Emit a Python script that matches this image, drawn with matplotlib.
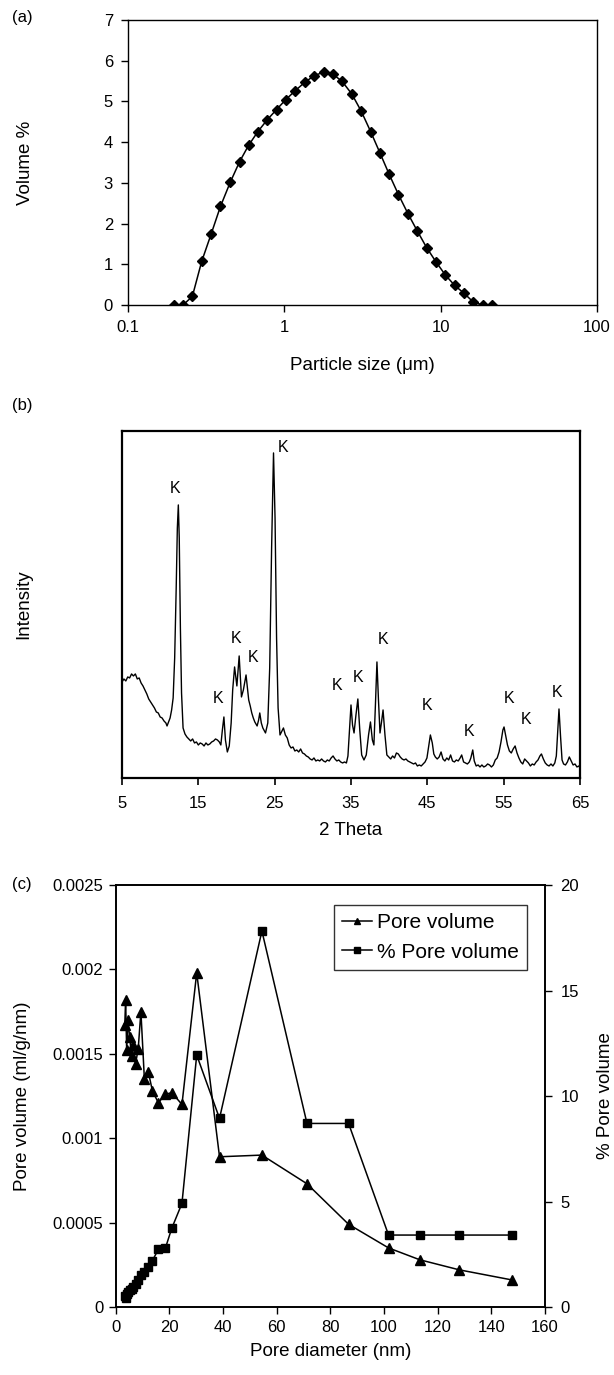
import matplotlib
matplotlib.use('Agg')
import matplotlib.pyplot as plt
import matplotlib.ticker as ticker

plt.rcParams['font.family'] = ['Liberation Sans', 'DejaVu Sans']
plt.rcParams['font.size'] = 12

# (a) particle size distribution
size_um = [0.195, 0.224, 0.257, 0.295, 0.339, 0.389, 0.449, 0.516, 0.589, 0.676,
           0.776, 0.89, 1.017, 1.17, 1.35, 1.55, 1.78, 2.04, 2.34, 2.7,
           3.1, 3.56, 4.08, 4.68, 5.37, 6.18, 7.08, 8.13, 9.33, 10.7,
           12.3, 14.1, 16.2, 18.6, 21.4]
volume_pct = [0, 0, 0.21, 1.07, 1.74, 2.42, 3.01, 3.52, 3.92, 4.26,
              4.55, 4.80, 5.04, 5.26, 5.47, 5.63, 5.72, 5.67, 5.49, 5.18,
              4.76, 4.26, 3.74, 3.21, 2.71, 2.24, 1.82, 1.41, 1.06, 0.74,
              0.48, 0.29, 0.07, 0, 0]

# (b) XRD pattern
two_theta = [5.0, 5.25, 5.5, 5.75, 6.0, 6.25, 6.5, 6.75, 7.0, 7.25, 7.5, 7.75, 8.0, 8.25,
             8.5, 8.75, 9.0, 9.25, 9.5, 9.75, 10.0, 10.25, 10.5, 10.75, 10.9, 11.1, 11.3,
             11.5, 11.7, 11.9, 12.1, 12.25, 12.38, 12.5, 12.65, 12.8, 13.0, 13.25, 13.5,
             13.75, 14.0, 14.25, 14.5, 14.75, 15.0, 15.25, 15.5, 15.75, 16.0, 16.25, 16.5,
             16.75, 17.0, 17.25, 17.5, 17.75, 17.95, 18.15, 18.35, 18.55, 18.8, 19.05, 19.3,
             19.5, 19.75, 20.05, 20.35, 20.65, 20.9, 21.25, 21.6, 21.8, 22.0, 22.2, 22.4,
             22.7, 22.9, 23.05, 23.25, 23.45, 23.8, 24.1, 24.35, 24.6, 24.85, 25.05, 25.25,
             25.45, 25.7, 25.95, 26.15, 26.4, 26.65, 26.9, 27.15, 27.4, 27.65, 27.9, 28.15,
             28.4, 28.65, 28.9, 29.15, 29.4, 29.65, 29.9, 30.15, 30.4, 30.65, 30.9, 31.15,
             31.4, 31.65, 31.9, 32.15, 32.4, 32.65, 32.9, 33.15, 33.4, 33.65, 33.9, 34.15,
             34.4, 34.6, 34.8, 35.0, 35.2, 35.4, 35.65, 35.9, 36.15, 36.4, 36.7, 37.0, 37.3,
             37.55, 37.8, 38.0, 38.2, 38.4, 38.6, 38.8, 39.0, 39.2, 39.45, 39.7, 39.95,
             40.2, 40.45, 40.7, 40.95, 41.2, 41.45, 41.7, 41.95, 42.2, 42.45, 42.7, 42.95,
             43.2, 43.45, 43.7, 43.95, 44.2, 44.45, 44.7, 44.95, 45.15, 45.4, 45.65, 45.85,
             46.05, 46.3, 46.55, 46.8, 47.05, 47.3, 47.55, 47.8, 48.05, 48.3, 48.55, 48.8,
             49.05, 49.3, 49.5, 49.75, 50.0, 50.25, 50.5, 50.7, 50.95, 51.15, 51.4, 51.65,
             51.9, 52.15, 52.4, 52.65, 52.9, 53.15, 53.4, 53.65, 53.9, 54.15, 54.4, 54.65,
             54.9, 55.05, 55.25, 55.5, 55.75, 56.0, 56.25, 56.5, 56.75, 57.0, 57.25, 57.5,
             57.75, 58.0, 58.25, 58.5, 58.75, 59.0, 59.25, 59.5, 59.75, 59.95, 60.2, 60.45,
             60.7, 60.95, 61.2, 61.45, 61.7, 61.9, 62.05, 62.25, 62.45, 62.65, 62.85, 63.1,
             63.35, 63.6, 63.85, 64.1, 64.35, 64.6, 64.85, 65.0]
intensity = [96, 99, 97, 101, 100, 104, 102, 104, 99, 100, 95, 92, 88, 84,
             79, 76, 73, 70, 66, 65, 61, 60, 57, 55, 52, 56, 60,
             68, 80, 120, 190, 250, 273, 240, 150, 85, 50, 44, 41,
             39, 37, 39, 35, 36, 33, 35, 34, 32, 35, 33, 34,
             36, 37, 39, 38, 36, 33, 48, 61, 38, 26, 32, 55,
             88, 111, 92, 122, 81, 88, 103, 78, 72, 65, 60, 56,
             52, 58, 65, 55, 50, 45, 55, 110, 230, 325, 260, 140,
             70, 43, 47, 50, 43, 40, 33, 30, 31, 27, 28, 26,
             29, 25, 24, 22, 21, 19, 18, 20, 17, 18, 17, 19,
             17, 16, 18, 17, 20, 22, 19, 17, 18, 16, 15, 16,
             15, 22, 48, 73, 53, 45, 63, 79, 48, 23, 18, 23, 43,
             56, 38, 33, 73, 116, 78, 45, 56, 68, 43, 23, 21,
             19, 22, 20, 25, 24, 21, 19, 18, 19, 17, 16, 15,
             14, 15, 12, 13, 12, 14, 16, 20, 30, 43, 35, 24,
             21, 19, 21, 26, 19, 17, 20, 18, 23, 17, 16, 18,
             17, 20, 23, 16, 15, 14, 16, 20, 28, 17, 12, 13,
             11, 13, 11, 12, 14, 13, 11, 13, 18, 20, 26, 36,
             48, 51, 43, 33, 27, 25, 29, 32, 25, 20, 16, 14,
             19, 17, 15, 12, 14, 13, 16, 18, 22, 24, 19, 15,
             13, 12, 14, 12, 15, 22, 43, 69, 42, 18, 14, 13,
             16, 21, 17, 13, 14, 11, 12, 10]
k_theta = [11.94, 26.05, 19.94, 22.12, 39.15, 17.62, 33.13, 35.88, 45.0, 50.46, 55.7, 57.89, 62.03]
k_height = [289, 330, 139, 120, 138, 79, 92, 100, 72, 46, 79, 58, 85]

# (c) pore size distribution
pore_diam = [3.4, 3.7, 4.1, 4.6, 5.2, 5.9, 6.6, 7.4, 8.4, 9.4, 10.7, 12.2, 13.7,
             15.9, 18.5, 20.9, 24.7, 30.2, 38.7, 54.5, 71.3, 86.8, 101.7, 113.3, 128.1, 147.8]
pore_vol = [0.00167, 0.00182, 0.00152, 0.00170, 0.00160, 0.00149, 0.00155, 0.00144, 0.00153,
            0.00175, 0.00135, 0.00139, 0.00128, 0.00121, 0.00126, 0.00127, 0.00120, 0.00198,
            0.00089, 0.00090, 0.00073, 0.00049, 0.00035, 0.00028, 0.00022, 0.00016]
pore_pct = [0.5, 0.45, 0.6, 0.7, 0.8, 0.85, 0.95, 1.1, 1.3, 1.5, 1.65, 1.9, 2.2,
            2.73, 2.78, 3.73, 4.91, 11.94, 8.94, 17.82, 8.7, 8.7, 3.41, 3.41, 3.41, 3.41]

fig = plt.figure(figsize=(6.14, 13.75), dpi=100)

# ---- (a)
ax1 = fig.add_axes([0.209, 0.7782, 0.763, 0.2073])
ax1.plot(size_um, volume_pct, '-', color='black', lw=1.1, marker='D', ms=5.5)
ax1.set_xscale('log')
ax1.set_xlim(0.1, 100)
ax1.set_ylim(0, 7)
ax1.xaxis.set_major_formatter(ticker.FuncFormatter(lambda v, p: '%g' % v))
ax1.xaxis.set_minor_locator(ticker.NullLocator())
ax1.set_yticks(range(0, 8))
ax1.set_xlabel('Particle size (\u03bcm)', fontsize=13.5, labelpad=16)
ax1.set_ylabel('Volume %', fontsize=13.5)
ax1.yaxis.set_label_coords(-0.201, 0.5)
ax1.tick_params(direction='out', length=5, width=1, labelsize=12, pad=6)
for s in ax1.spines.values():
    s.set_linewidth(1.0)
fig.text(0.02, 0.987, '(a)', fontsize=12, va='center')

# ---- (b)
ax2 = fig.add_axes([0.1987, 0.4342, 0.7459, 0.2524])
ax2.plot(two_theta, intensity, '-', color='black', lw=1.0)
for t, h in zip(k_theta, k_height):
    ax2.text(t, h, 'K', ha='center', va='center', fontsize=11.5)
ax2.set_xlim(5, 65)
ax2.set_ylim(0, 347)
ax2.set_xticks(range(5, 66, 10))
ax2.set_yticks([])
ax2.set_xlabel('2 Theta', fontsize=13.5, labelpad=8)
ax2.set_ylabel('Intensity', fontsize=13.5)
ax2.yaxis.set_label_coords(-0.1965, 0.5)
ax2.tick_params(direction='out', length=5, width=1.2, labelsize=12, pad=8)
for s in ax2.spines.values():
    s.set_linewidth(1.6)
fig.text(0.02, 0.705, '(b)', fontsize=12, va='center')

# ---- (c)
ax3 = fig.add_axes([0.1884, 0.04945, 0.6992, 0.3069])
l1, = ax3.plot(pore_diam, pore_vol, '-', color='black', lw=1.1, marker='^', ms=6.5,
               label='Pore volume')
ax3.set_xlim(0, 160)
ax3.set_ylim(0, 0.0025)
ax3.set_xticks(range(0, 161, 20))
ax3.set_yticks([0, 0.0005, 0.001, 0.0015, 0.002, 0.0025])
ax3.set_yticklabels(['0', '0.0005', '0.001', '0.0015', '0.002', '0.0025'])
ax3.set_xlabel('Pore diameter (nm)', fontsize=13.5, labelpad=6)
ax3.set_ylabel('Pore volume (ml/g/nm)', fontsize=13.5)
ax3.yaxis.set_label_coords(-0.198, 0.5)
ax3.tick_params(direction='out', length=5, width=1, labelsize=12, pad=4)

ax4 = ax3.twinx()
l2, = ax4.plot(pore_diam, pore_pct, '-', color='black', lw=1.1, marker='s', ms=6,
               label='% Pore volume')
ax4.set_ylim(0, 20)
ax4.set_yticks(range(0, 21, 5))
ax4.set_ylabel('% Pore volume', fontsize=13.5)
ax4.yaxis.set_label_coords(1.12, 0.5)
ax4.tick_params(direction='out', length=5, width=1, labelsize=12, pad=6)
for a in (ax3, ax4):
    for s in a.spines.values():
        s.set_linewidth(1.2)

leg = ax3.legend([l1, l2], ['Pore volume', '% Pore volume'], loc='upper right',
                 bbox_to_anchor=(0.958, 0.953), fontsize=15, frameon=True, fancybox=False,
                 edgecolor='black', handlelength=1.4, handletextpad=0.25, borderpad=0.4,
                 labelspacing=0.5, markerscale=0.75, borderaxespad=0)
leg.get_frame().set_linewidth(1.0)
fig.text(0.02, 0.357, '(c)', fontsize=12, va='center')

fig.savefig('out.png', dpi=100)
